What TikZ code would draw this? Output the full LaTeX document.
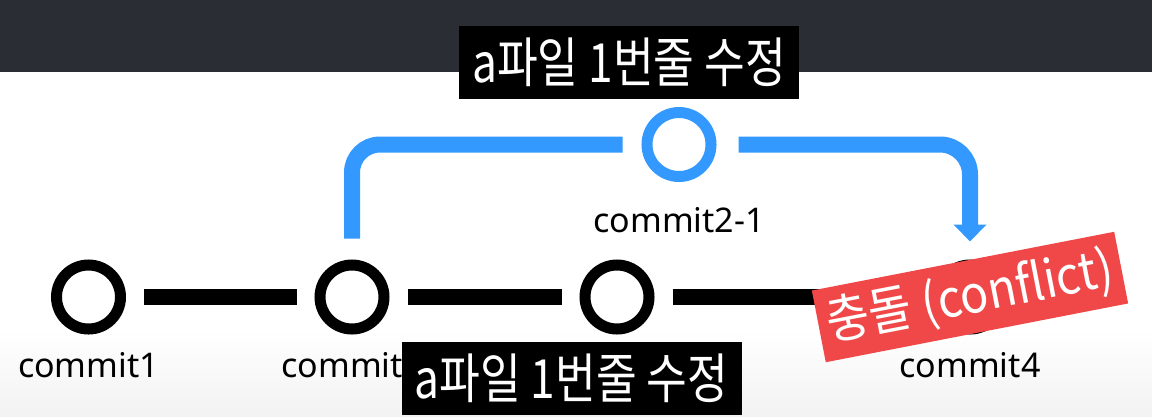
\documentclass[tikz,border=0pt]{standalone}
\usepackage{fontspec}
\usepackage{graphicx}
\setmainfont{Noto Sans}
\newfontfamily\kr{Noto Sans CJK KR}
\usetikzlibrary{positioning,arrows.meta}
\definecolor{band}{RGB}{43,45,52}
\definecolor{branch}{RGB}{51,153,255}
\definecolor{alert}{RGB}{240,72,72}
\tikzset{
  commit/.style={circle,draw,line width=11pt,minimum size=64pt,inner sep=0pt},
  link/.style={line width=16pt,shorten <=18pt,shorten >=18pt},
  flow/.style={draw=branch,line width=16pt},
  lbl/.style={inner sep=0pt,font=\fontsize{34}{40}\selectfont},
  tag/.style={fill=black,text=white,minimum width=340pt,minimum height=73pt,inner sep=0pt,font=\kr\fontsize{54}{60}\selectfont},
  clash/.style={fill=alert,text=white,minimum width=308pt,minimum height=73pt,inner sep=0pt,font=\kr\fontsize{52}{58}\selectfont},
}
\newcommand\narrow[2][0.82]{\scalebox{#1}[1]{#2}}

\begin{document}
\begin{tikzpicture}[x=1pt,y=-1pt]
  \useasboundingbox (0,0) rectangle (1152,416);
  \fill[band] (0,0) rectangle (1152,72);
  \shade[top color=white,bottom color=black!5] (0,330) rectangle (1152,416);
  % main line
  \foreach \i/\x in {1/88.5,2/352,3/617,4/970}
    \node[commit] (c\i) at (\x,297) {};
  \foreach \a/\b in {1/2,2/3,3/4}
    \draw[link] (c\a) -- (c\b);
  \foreach \i in {1,2,4}
    \node[lbl,below=18pt of c\i] (l\i) {commit\i};
  % branch
  \node[commit,draw=branch] (c21) at (679,144.5) {};
  \node[lbl,below=25pt of c21] (l21) {commit2-1};
  \draw[flow,rounded corners=28pt,shorten <=21pt,shorten >=19pt] (c2.north) |- (c21.west);
  \draw[flow,rounded corners=30pt,shorten <=22pt,shorten >=18pt,-{Triangle[length=17pt,width=32pt]}] (c21.east) -| (c4.north);
  % notes
  \node[clash,rotate=11] (cf) at (c4) {\narrow[0.9]{충돌 (conflict)}};
  \node[tag] (t1) at (629,62.5) {\narrow{a파일 1번줄 수정}};
  \node[tag] (t2) at (571.5,378.5) {\narrow{a파일 1번줄 수정}};
\end{tikzpicture}
\end{document}
